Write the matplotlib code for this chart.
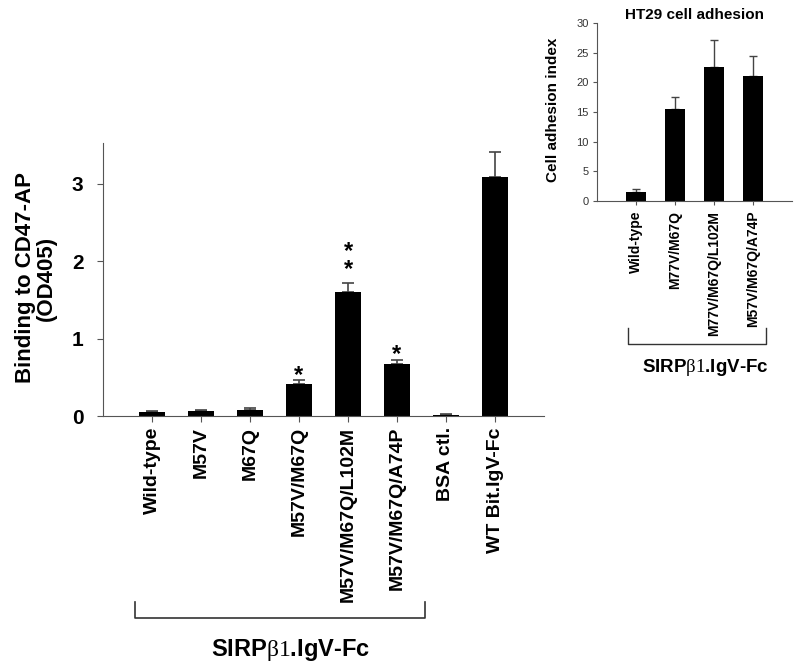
import numpy as np
import matplotlib
matplotlib.use("Agg")
import matplotlib.pyplot as plt

plt.rcParams['font.family'] = ['Liberation Sans', 'DejaVu Sans']
plt.rcParams['mathtext.fontset'] = 'custom'
plt.rcParams['mathtext.rm'] = 'Liberation Serif'

# main panel: binding to CD47-AP
labels = ["Wild-type", "M57V", "M67Q", "M57V/M67Q", "M57V/M67Q/L102M",
          "M57V/M67Q/A74P", "BSA ctl.", "WT Bit.IgV-Fc"]
od405 = [0.05, 0.07, 0.08, 0.42, 1.60, 0.67, 0.01, 3.09]
od405_err = [0.02, 0.01, 0.02, 0.04, 0.12, 0.05, 0.01, 0.32]
n_stars = [0, 0, 0, 1, 2, 1, 0, 0]

# inset: HT29 cell adhesion
ins_labels = ["Wild-type", "M77V/M67Q", "M77V/M67Q/L102M", "M57V/M67Q/A74P"]
adhesion = [1.5, 15.5, 22.6, 21.1]
adhesion_err = [0.6, 2.1, 4.5, 3.3]

spine_col = "#555555"
err_col = "#444444"
group_label = "SIRP$\\mathrm{\\beta1}$.IgV-Fc"

fig = plt.figure(figsize=(8, 6.7), dpi=100)

# ---- main axes
ax = fig.add_axes([103/800, 1-416/670, 441/800, 273/670])
x = np.arange(len(labels))
ax.bar(x, od405, width=0.52, color="black", zorder=2)
ax.errorbar(x, od405, yerr=[np.zeros(len(x)), od405_err], fmt="none",
            ecolor=err_col, elinewidth=1.2, capsize=4, capthick=1.2, zorder=1)
# asterisks above the bars
for i, n in enumerate(n_stars):
    if n == 0:
        continue
    top = od405[i] + od405_err[i]
    off = -0.08 if n == 1 else 0.03
    ax.text(x[i], top + off, "\n".join(["*"] * n), ha="center", va="bottom",
            fontsize=17, fontweight="bold", linespacing=0.7)
ax.set_xlim(-1, 8)
ax.set_ylim(0, 3.53)
ax.set_yticks([0, 1, 2, 3])
ax.set_xticks(x)
ax.set_xticklabels(labels, rotation=90, fontsize=14, fontweight="bold", va="top")
for t in ax.get_yticklabels():
    t.set_fontweight("bold")
    t.set_fontsize(15)
ax.tick_params(axis="x", length=4, pad=4, color=spine_col)
ax.tick_params(axis="y", length=4, pad=10, color=spine_col)
for side in ["top", "right"]:
    ax.spines[side].set_visible(False)
for side in ["left", "bottom"]:
    ax.spines[side].set_color(spine_col)
fig.text(36/800, 1-278/670, "Binding to CD47-AP\n(OD405)", rotation=90,
         ha="center", va="center", fontsize=16, fontweight="bold", linespacing=1.0)

# bracket under main labels
fig.add_artist(plt.Line2D([135/800, 135/800, 425/800, 425/800],
                          [1-602/670, 1-618/670, 1-618/670, 1-602/670],
                          color="#333333", lw=1.2))
fig.text(290/800, 1-650/670, group_label, ha="center", va="center",
         fontsize=17, fontweight="bold")

# ---- inset axes
ia = fig.add_axes([597/800, 1-201/670, 195/800, 178/670])
xi = np.arange(len(ins_labels))
ia.bar(xi, adhesion, width=0.5, color="black", zorder=2)
ia.errorbar(xi, adhesion, yerr=[np.zeros(len(xi)), adhesion_err], fmt="none",
            ecolor=err_col, elinewidth=1.0, capsize=3, capthick=1.0, zorder=1)
ia.set_xlim(-1, 4)
ia.set_ylim(0, 30)
ia.set_yticks([0, 5, 10, 15, 20, 25, 30])
ia.set_xticks(xi)
ia.set_xticklabels(ins_labels, rotation=90, fontsize=10, fontweight="bold", va="top")
ia.tick_params(axis="y", length=3, pad=3, labelsize=8, color=spine_col, labelcolor="#333333")
ia.tick_params(axis="x", length=3, pad=4, color=spine_col)
for side in ["top", "right"]:
    ia.spines[side].set_visible(False)
for side in ["left", "bottom"]:
    ia.spines[side].set_color(spine_col)
ia.set_title("HT29 cell adhesion", fontsize=11, fontweight="bold", pad=3)
fig.text(553/800, 1-110/670, "Cell adhesion index", rotation=90,
         ha="center", va="center", fontsize=11, fontweight="bold")

fig.add_artist(plt.Line2D([628/800, 628/800, 766/800, 766/800],
                          [1-328/670, 1-344/670, 1-344/670, 1-328/670],
                          color="#333333", lw=1.0))
fig.text(705/800, 1-367/670, group_label, ha="center", va="center",
         fontsize=13.5, fontweight="bold")

fig.savefig("out.png", dpi=100)
